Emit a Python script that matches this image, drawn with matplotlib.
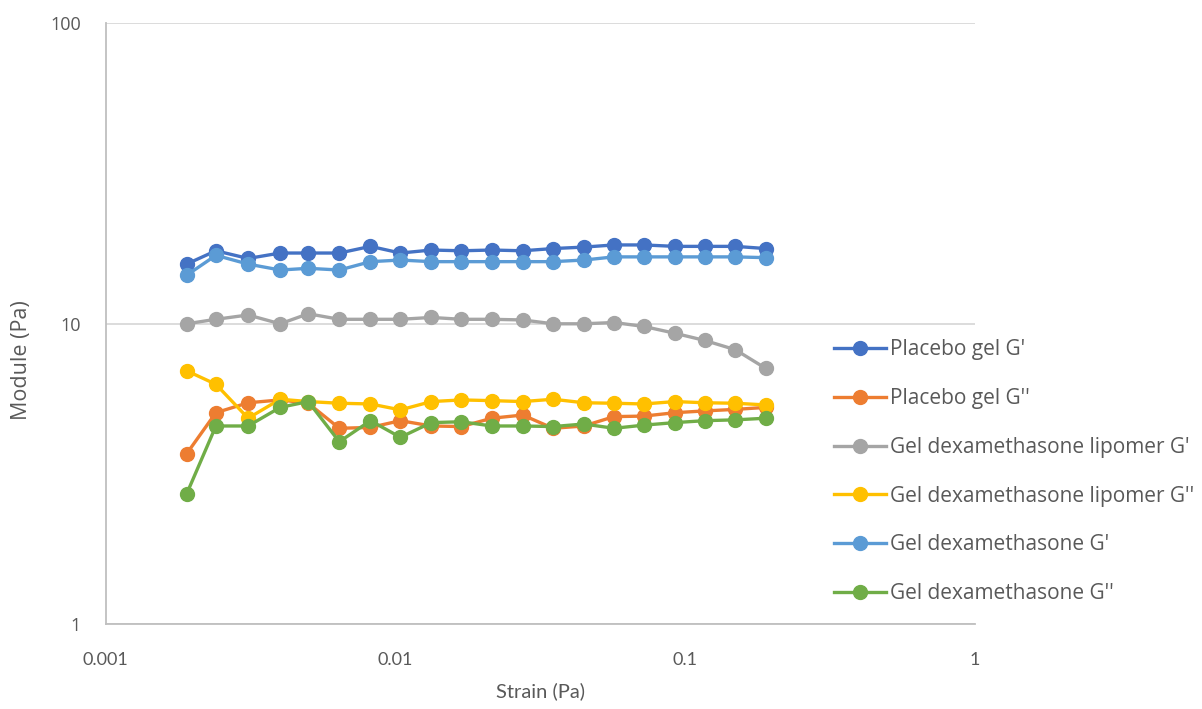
import matplotlib
matplotlib.use("Agg")
import matplotlib.pyplot as plt
from matplotlib.ticker import FixedLocator, NullLocator

plt.rcParams['font.family'] = ['Lato', 'DejaVu Sans']

# strain values (Pa)
strain = [0.0019, 0.0024, 0.0031, 0.0040, 0.0050, 0.0064, 0.0082, 0.0104, 0.0133, 0.0169,
          0.0215, 0.0275, 0.0350, 0.0447, 0.0568, 0.0720, 0.0922, 0.117, 0.149, 0.190]

placebo_g1 = [15.8, 17.5, 16.5, 17.2, 17.2, 17.2, 18.1, 17.2, 17.6, 17.5,
              17.6, 17.5, 17.8, 18.0, 18.3, 18.3, 18.1, 18.1, 18.1, 17.8]
placebo_g2 = [3.69, 5.06, 5.46, 5.58, 5.44, 4.49, 4.52, 4.76, 4.57, 4.55,
              4.85, 4.97, 4.49, 4.57, 4.91, 4.93, 5.06, 5.13, 5.19, 5.27]
lipomer_g1 = [10.0, 10.35, 10.7, 10.0, 10.8, 10.35, 10.35, 10.35, 10.5, 10.35,
              10.35, 10.3, 10.0, 10.0, 10.1, 9.8, 9.3, 8.8, 8.2, 7.1]
lipomer_g2 = [6.98, 6.29, 4.85, 5.61, 5.51, 5.44, 5.41, 5.17, 5.51, 5.58,
              5.55, 5.51, 5.61, 5.46, 5.44, 5.41, 5.51, 5.46, 5.44, 5.37]
dexa_g1 = [14.5, 16.9, 15.8, 15.1, 15.3, 15.1, 16.1, 16.3, 16.1, 16.1,
           16.1, 16.1, 16.1, 16.3, 16.7, 16.7, 16.7, 16.7, 16.7, 16.6]
dexa_g2 = [2.71, 4.57, 4.57, 5.27, 5.51, 4.05, 4.76, 4.19, 4.69, 4.72,
           4.57, 4.57, 4.55, 4.64, 4.49, 4.60, 4.69, 4.76, 4.79, 4.85]

series = [
    ("Placebo gel G'", placebo_g1, '#4472C4'),
    ("Placebo gel G''", placebo_g2, '#ED7D31'),
    ("Gel dexamethasone lipomer G'", lipomer_g1, '#A5A5A5'),
    ("Gel dexamethasone lipomer G''", lipomer_g2, '#FFC000'),
    ("Gel dexamethasone G'", dexa_g1, '#5B9BD5'),
    ("Gel dexamethasone G''", dexa_g2, '#70AD47'),
]

fig = plt.figure(figsize=(12.02, 7.09), dpi=100)
ax = fig.add_axes([0.088, 0.1195, 0.723, 0.8476])

for label, vals, col in series:
    ax.plot(strain, vals, '-o', color=col, lw=2.4, markersize=10, label=label)

ax.set_xscale('log')
ax.set_yscale('log')
ax.set_xlim(0.001, 1)
ax.set_ylim(1, 100)
ax.xaxis.set_major_locator(FixedLocator([0.001, 0.01, 0.1, 1]))
ax.yaxis.set_major_locator(FixedLocator([1, 10, 100]))
ax.xaxis.set_minor_locator(NullLocator())
ax.yaxis.set_minor_locator(NullLocator())
ax.set_xticklabels(['0.001', '0.01', '0.1', '1'])
ax.set_yticklabels(['1', '10', '100'], family=['Open Sans', 'DejaVu Sans'])
ax.tick_params(length=0, labelsize=13, labelcolor='#595959')
ax.tick_params(axis='x', pad=20)
ax.tick_params(axis='y', pad=18)

ax.grid(axis='y', color='#D9D9D9', lw=1.3)
ax.set_axisbelow(True)
for s in ['top', 'right']:
    ax.spines[s].set_visible(False)
for s in ['left', 'bottom']:
    ax.spines[s].set_color('#BFBFBF')
    ax.spines[s].set_linewidth(1.3)

ax.set_xlabel('Strain (Pa)', fontsize=14.5, color='#595959', labelpad=10)
ax.set_ylabel('Module (Pa)', fontsize=15.5, color='#595959',
              family=['Open Sans', 'DejaVu Sans'])
ax.yaxis.set_label_coords(-0.085, 0.44)

leg = ax.legend(loc='upper left', bbox_to_anchor=(0.687, 0.533), bbox_transform=fig.transFigure,
                frameon=False, prop={'family': ['Open Sans', 'DejaVu Sans'], 'size': 15},
                labelspacing=1.33, handlelength=2.5, handletextpad=0.2, borderaxespad=0)
for t in leg.get_texts():
    t.set_color('#595959')

fig.savefig('out.png', dpi=100)
